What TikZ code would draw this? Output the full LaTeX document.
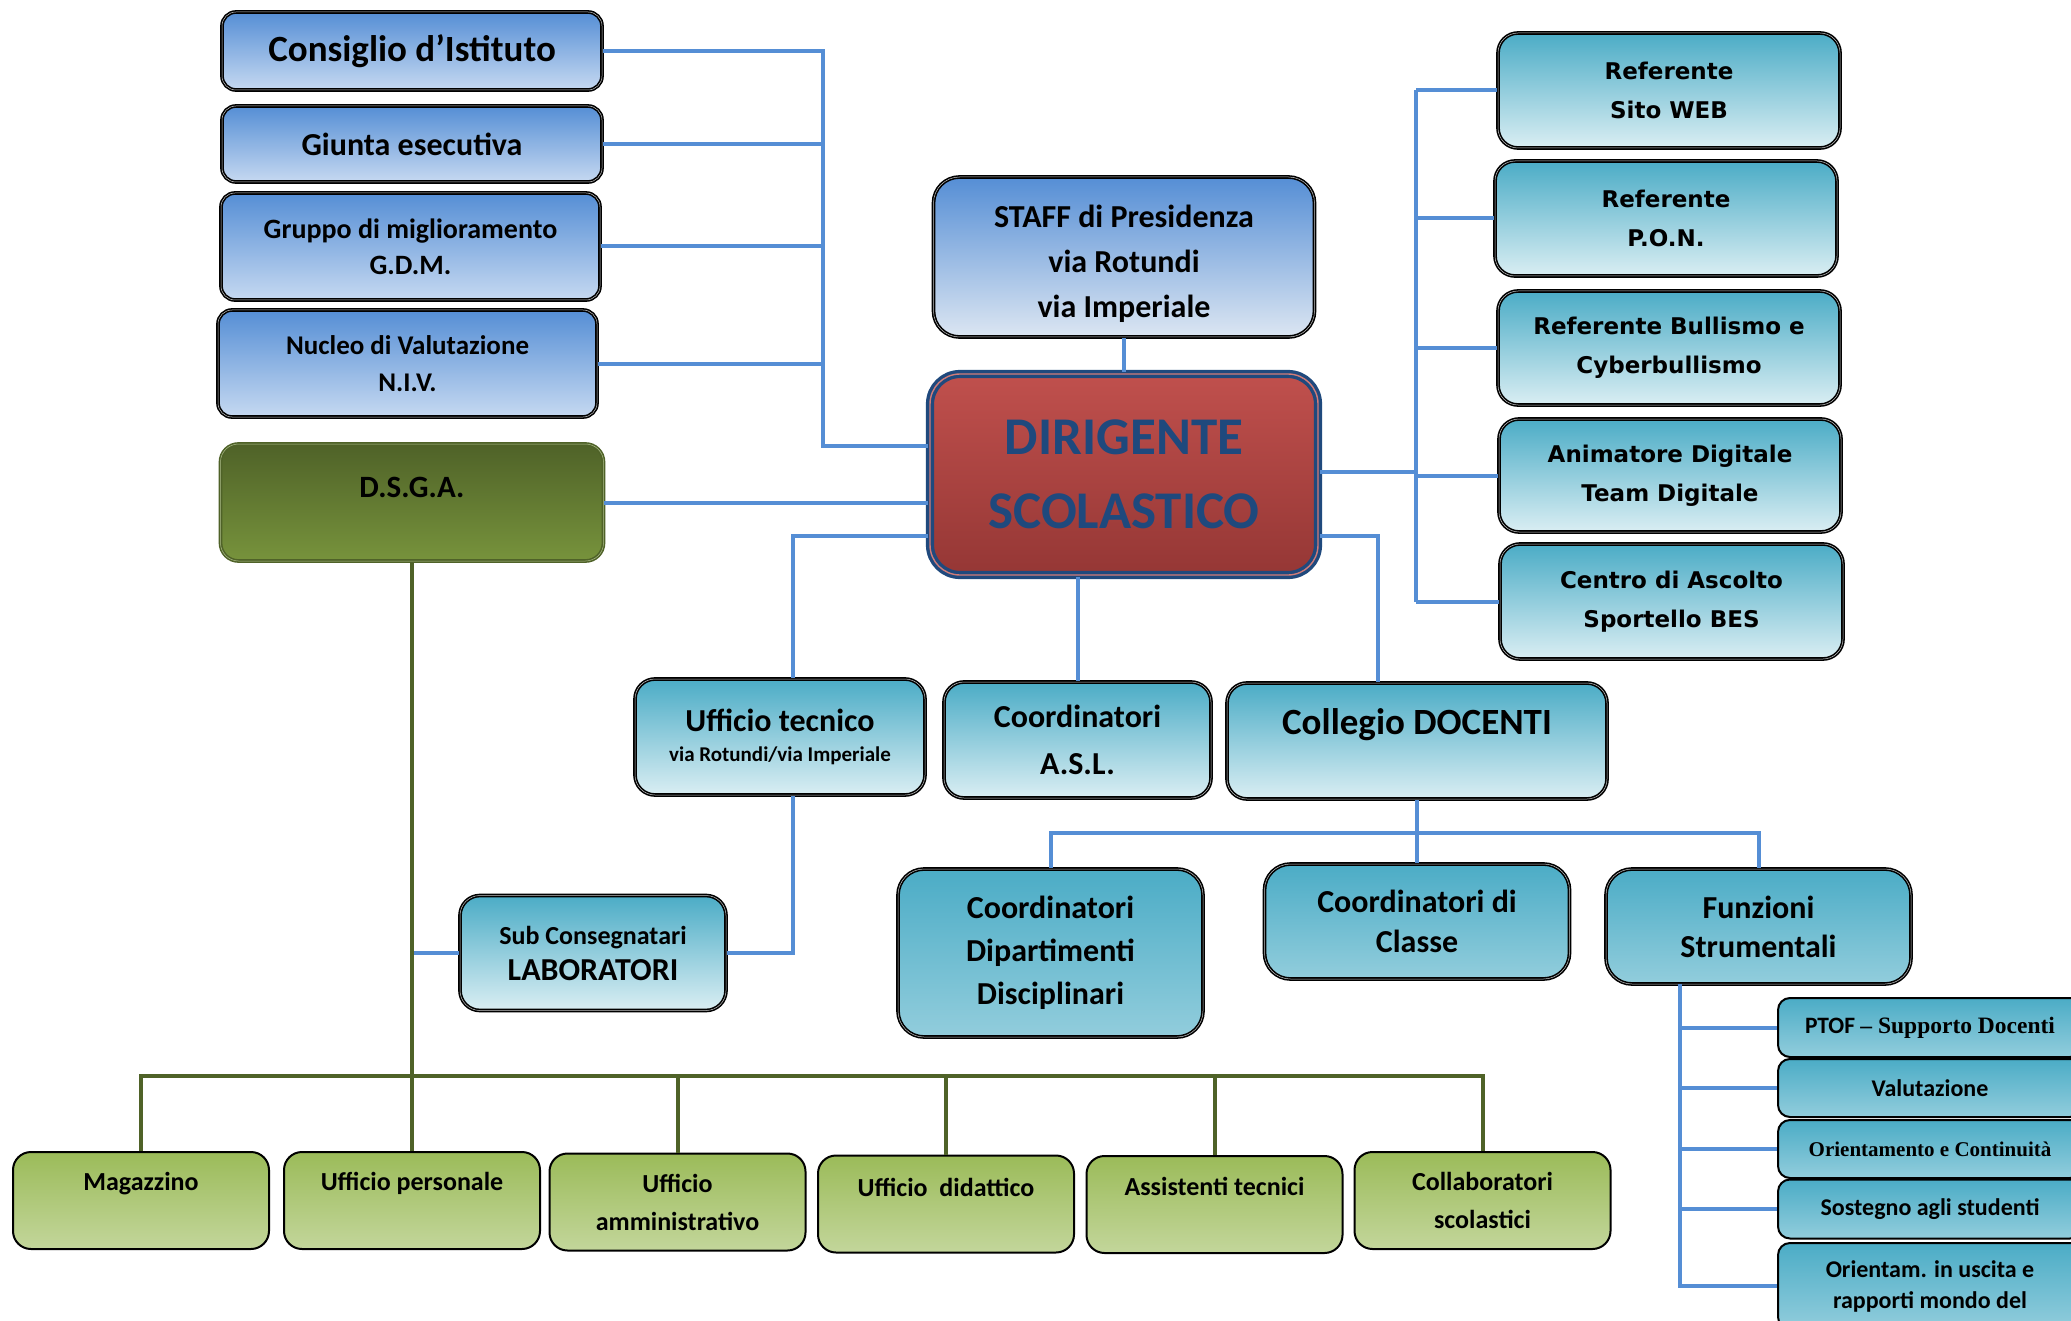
\documentclass[tikz,border=0pt]{standalone}
\usepackage{fontspec}
\setmainfont{Carlito}
\newfontfamily\verdfont{DejaVu Sans}
\newfontfamily\timesfont{Liberation Serif}
\usepackage{tikz}
\usetikzlibrary{shapes,arrows}
\newcommand{\fsz}[2]{\fontsize{#1}{#2}\selectfont\bfseries}
\definecolor{linkblue}{RGB}{85,142,213}
\definecolor{linkgreen}{RGB}{79,98,40}
\definecolor{blutop}{RGB}{85,142,213}
\definecolor{blubot}{RGB}{198,217,241}
\definecolor{staffbot}{RGB}{220,230,242}
\definecolor{tealtop}{RGB}{75,172,198}
\definecolor{tealpale}{RGB}{218,238,243}
\definecolor{tealmid}{RGB}{146,205,220}
\definecolor{redtop}{RGB}{192,80,77}
\definecolor{redbot}{RGB}{149,55,53}
\definecolor{navy}{RGB}{31,73,125}
\definecolor{olivetop}{RGB}{79,98,40}
\definecolor{olivebot}{RGB}{119,147,60}
\definecolor{greentop}{RGB}{155,187,89}
\definecolor{greenbot}{RGB}{195,214,155}
\tikzstyle{box} = [rectangle, draw=black, line width=1.6pt, double=gray!45, double distance=0.5pt,
rounded corners=14pt, align=center, inner sep=0pt]
\tikzstyle{bluebox} = [box, top color=blutop, bottom color=blubot]
\tikzstyle{tealbox} = [box, top color=tealtop, bottom color=tealpale, rounded corners=20pt]
\tikzstyle{tealdark} = [box, top color=tealtop, bottom color=tealmid, rounded corners=26pt]
\tikzstyle{smallbox} = [rectangle, draw=black, line width=2pt, rounded corners=12pt, top color=tealtop,
bottom color=tealmid, align=center, minimum width=304, minimum height=59, inner sep=0pt]
\tikzstyle{greenbox} = [rectangle, draw=black, line width=2pt, rounded corners=18pt, top color=greentop,
bottom color=greenbot, align=center, minimum width=256, minimum height=97, inner sep=0pt, font=\fsz{26}{38}]
\tikzstyle{line} = [draw, line width=4pt, color=linkblue]
\tikzstyle{gline} = [draw, line width=4pt, color=linkgreen]

\begin{document}
\begin{tikzpicture}[x=1pt, y=-1pt]
	\path [use as bounding box, fill=white] (0,0) rectangle (2071,1321);
	\clip (0,0) rectangle (2071,1321);
	% Place nodes
	\node [bluebox, minimum width=380, minimum height=78, font=\fsz{37}{44}] (cons) at (412,51) {Consiglio d’Istituto};
	\node [bluebox, minimum width=380, minimum height=76, font=\fsz{32}{40}] (giunta) at (412,144) {Giunta esecutiva};
	\node [bluebox, minimum width=379, minimum height=107, font=\fsz{28}{36}] (gdm) at (410.5,246.5) {Gruppo di miglioramento\\G.D.M.};
	\node [bluebox, minimum width=379, minimum height=107, font=\fsz{27}{37}] (niv) at (407.5,363.5) {Nucleo di Valutazione\\N.I.V.};
	\node [box, draw=olivetop, double=olivebot!60!white, top color=olivetop, bottom color=olivebot, rounded corners=18pt,
	minimum width=383, minimum height=117, font=\fsz{31}{38}, text depth=30] (dsga) at (412,502.5) {D.S.G.A.};
	\node [bluebox, bottom color=staffbot, rounded corners=26pt, minimum width=381, minimum height=160,
	font=\fsz{32}{45}, text height=128, text depth=6] (staff) at (1124,257) {STAFF di Presidenza\\via Rotundi\\via Imperiale};
	\node [box, draw=navy, line width=3.4pt, double=redtop!75!white, double distance=1.4pt, top color=redtop,
	bottom color=redbot, rounded corners=30pt, minimum width=388, minimum height=201, font=\fsz{53}{74},
	text=navy] (dir) at (1124,474.5) {DIRIGENTE\\SCOLASTICO};
	\node [tealbox, minimum width=342, minimum height=115, font=\verdfont\fsz{23}{39}] (web) at (1669,90.5) {Referente\\Sito WEB};
	\node [tealbox, minimum width=342, minimum height=115, font=\verdfont\fsz{23}{39}] (pon) at (1666,218.5) {Referente\\P.O.N.};
	\node [tealbox, minimum width=342, minimum height=114, font=\verdfont\fsz{23}{39}] (bull) at (1669,348) {Referente Bullismo e\\Cyberbullismo};
	\node [tealbox, minimum width=342, minimum height=113, font=\verdfont\fsz{23}{39}] (anim) at (1670,475.5) {Animatore Digitale\\Team Digitale};
	\node [tealbox, minimum width=343, minimum height=115, font=\verdfont\fsz{23}{39}] (bes) at (1671.5,601.5) {Centro di Ascolto\\Sportello BES};
	\node [tealbox, minimum width=290, minimum height=116, font=\fsz{32}{30}] (tec) at (780,737)
	{Ufficio tecnico\\{\fontsize{21}{24}\selectfont via Rotundi/via Imperiale}};
	\node [tealbox, minimum width=267, minimum height=116, font=\fsz{32}{47}] (asl) at (1077.5,740) {Coordinatori\\A.S.L.};
	\node [tealbox, minimum width=380, minimum height=116, font=\fsz{37}{44}, text depth=38] (coll) at (1417,741) {Collegio DOCENTI};
	\node [tealbox, minimum width=266, minimum height=115, font=\fsz{26}{36}] (lab) at (593,953)
	{Sub Consegnatari\\{\fontsize{32}{36}\selectfont LABORATORI}};
	\node [tealdark, minimum width=305, minimum height=168, font=\fsz{32}{43}] (dip) at (1050.5,953) {Coordinatori\\Dipartimenti\\Disciplinari};
	\node [tealdark, minimum width=305, minimum height=115, font=\fsz{32}{40}] (cla) at (1417,921.5) {Coordinatori di\\Classe};
	\node [tealdark, minimum width=305, minimum height=115, font=\fsz{32}{39}] (fun) at (1758.5,926.5) {Funzioni\\Strumentali};
	\node [smallbox, font=\fsz{23.5}{26}] (ptof) at (1930,1027.5) {PTOF {\timesfont – Supporto Docenti}};
	\node [smallbox, minimum height=58, font=\fsz{24}{28}] (valu) at (1930,1088) {Valutazione};
	\node [smallbox, minimum height=58, font=\timesfont\fsz{21}{26}] (orie) at (1930,1149) {Orientamento e Continuità};
	\node [smallbox, font=\fsz{24}{26}] (sost) at (1930,1209) {Sostegno agli studenti};
	\node [smallbox, minimum height=86, font=\fsz{24}{31}] (usci) at (1930,1286) {Orientam. in uscita e\\rapporti mondo del};
	\node [greenbox, text depth=39] (mag) at (141,1200.5) {Magazzino};
	\node [greenbox, text depth=39] (pers) at (412,1200.5) {Ufficio personale};
	\node [greenbox] (amm) at (677.5,1202) {Ufficio\\amministrativo};
	\node [greenbox, text depth=34] (did) at (946,1204) {Ufficio\ \ didattico};
	\node [greenbox, text depth=36] (ass) at (1214.5,1204.5) {Assistenti tecnici};
	\node [greenbox] (collab) at (1482.5,1200.5) {Collaboratori\\scolastici};
	% Junctions
	\coordinate (bl) at (823,446);
	\coordinate (ut) at (793,536);
	\coordinate (uc) at (1378,536);
	\coordinate (br) at (1416,472);
	\coordinate (gb) at (412,1076);
	\coordinate (cb) at (1417,833);
	\coordinate (fb) at (1680,984);
	% Draw edges
	\path [line] (cons.east) -| (bl) -- (bl -| dir.west);
	\path [line] (giunta.east) -- (giunta.east -| bl);
	\path [line] (gdm.east) -- (gdm.east -| bl);
	\path [line] (niv.east) -- (niv.east -| bl);
	\path [line] (dsga.east) -- (dsga.east -| dir.west);
	\path [line] (staff.south) -- (dir.north);
	\path [line] (ut -| dir.west) -- (ut) -- (ut |- tec.north);
	\path [line] (asl.north |- dir.south) -- (asl.north);
	\path [line] (uc -| dir.east) -- (uc) -- (uc |- coll.north);
	\path [line] (br -| dir.east) -- (br);
	\path [line] (web.west -| br) -- (bes.west -| br);
	\path [line] (web.west) -- (web.west -| br);
	\path [line] (pon.west) -- (pon.west -| br);
	\path [line] (bull.west) -- (bull.west -| br);
	\path [line] (anim.west) -- (anim.west -| br);
	\path [line] (bes.west) -- (bes.west -| br);
	\path [line] (ut |- tec.south) |- (lab.east);
	\path [line] (lab.west) -- (lab.west -| dsga.south);
	\path [gline] (dsga.south) -- (pers.north);
	\path [gline] (mag.north) |- (gb) -| (collab.north);
	\path [gline] (amm.north) -- (amm.north |- gb);
	\path [gline] (did.north) -- (did.north |- gb);
	\path [gline] (ass.north) -- (ass.north |- gb);
	\path [line] (coll.south) -- (cla.north);
	\path [line] (dip.north) |- (cb) -| (fun.north);
	\path [line] (fb) |- (usci.west);
	\path [line] (ptof.west -| fb) -- (ptof.west);
	\path [line] (valu.west -| fb) -- (valu.west);
	\path [line] (orie.west -| fb) -- (orie.west);
	\path [line] (sost.west -| fb) -- (sost.west);
\end{tikzpicture}
\end{document}
